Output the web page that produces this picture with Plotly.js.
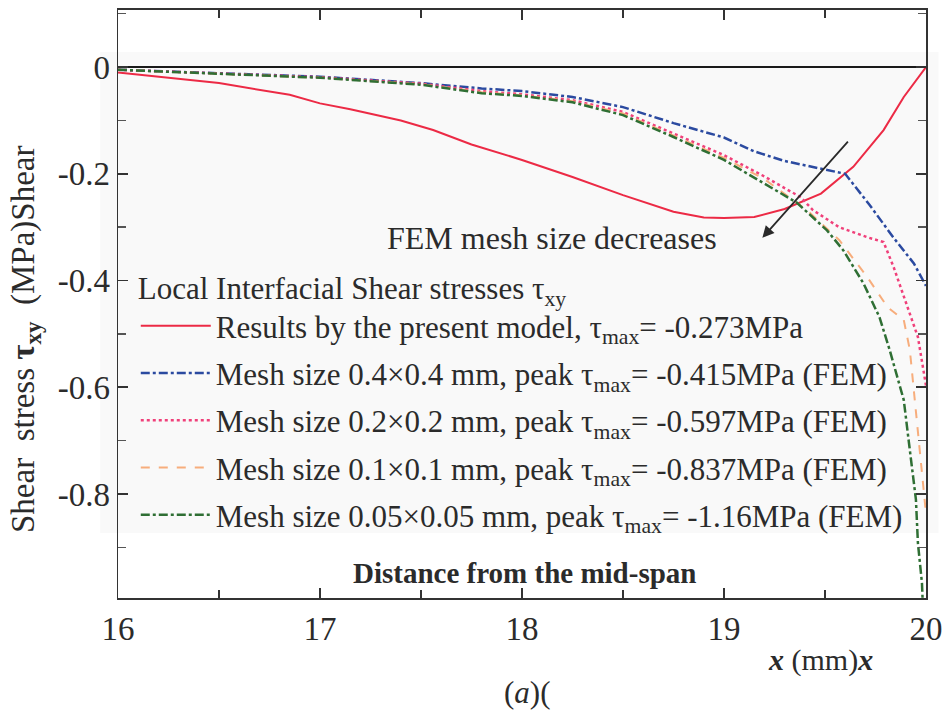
<!DOCTYPE html>
<html>
<head>
<meta charset="utf-8">
<script src="https://cdn.plot.ly/plotly-3.0.1.min.js"></script>
<style>html,body{margin:0;padding:0;background:#fff;}#chart{width:949px;height:713px;}</style>
</head>
<body>
<div id="chart"></div>
<script>
// ---- data ----
const modelX = [16, 16.25, 16.5, 16.85, 17.0, 17.15, 17.4, 17.56, 17.75, 18.0, 18.25, 18.5, 18.75, 18.9, 19.0, 19.15, 19.3, 19.48, 19.64, 19.79, 19.89, 20];
const modelY = [-0.01, -0.02, -0.03, -0.052, -0.068, -0.079, -0.1, -0.118, -0.145, -0.174, -0.206, -0.24, -0.271, -0.282, -0.283, -0.281, -0.266, -0.237, -0.187, -0.118, -0.056, 0.0];

const mesh04X = [16, 16.5, 17, 17.5, 17.8, 18.0, 18.25, 18.5, 18.75, 19.0, 19.15, 19.3, 19.48, 19.6, 19.72, 19.84, 19.94, 20];
const mesh04Y = [-0.005, -0.012, -0.018, -0.03, -0.04, -0.045, -0.056, -0.075, -0.105, -0.132, -0.158, -0.176, -0.19, -0.2, -0.258, -0.32, -0.368, -0.41];

const mesh02X = [16, 16.5, 17, 17.5, 17.8, 18.0, 18.25, 18.5, 18.75, 19.0, 19.2, 19.38, 19.44, 19.57, 19.71, 19.79, 19.84, 19.91, 19.96, 20];
const mesh02Y = [-0.005, -0.012, -0.019, -0.031, -0.045, -0.051, -0.062, -0.084, -0.124, -0.165, -0.205, -0.244, -0.268, -0.3, -0.319, -0.328, -0.375, -0.45, -0.506, -0.597];

const mesh01X = [16, 16.5, 17, 17.5, 17.8, 18.0, 18.25, 18.5, 18.75, 19.0, 19.2, 19.41, 19.57, 19.71, 19.81, 19.89, 19.92, 19.96, 19.99, 20];
const mesh01Y = [-0.005, -0.012, -0.02, -0.032, -0.047, -0.053, -0.064, -0.087, -0.128, -0.17, -0.21, -0.268, -0.324, -0.394, -0.45, -0.474, -0.53, -0.686, -0.793, -0.837];

const mesh005X = [16, 16.5, 17, 17.5, 17.8, 18.0, 18.25, 18.5, 18.75, 19.0, 19.23, 19.36, 19.51, 19.59, 19.69, 19.77, 19.82, 19.89, 19.92, 19.95, 19.96, 19.98, 20];
const mesh005Y = [-0.005, -0.012, -0.02, -0.033, -0.049, -0.054, -0.066, -0.09, -0.131, -0.174, -0.225, -0.254, -0.306, -0.343, -0.405, -0.469, -0.53, -0.624, -0.718, -0.81, -0.892, -0.967, -1.16];

const seriesNames = [
  "Results by the present model, τ<sub>max</sub>= -0.273MPa",
  "Mesh size 0.4×0.4 mm, peak τ<sub>max</sub>= -0.415MPa (FEM)",
  "Mesh size 0.2×0.2 mm, peak τ<sub>max</sub>= -0.597MPa (FEM)",
  "Mesh size 0.1×0.1 mm, peak τ<sub>max</sub>= -0.837MPa (FEM)",
  "Mesh size 0.05×0.05 mm, peak τ<sub>max</sub>= -1.16MPa (FEM)"
];
const xTickVals = [16, 17, 18, 19, 20];
const xTickText = ["16", "17", "18", "19", "20"];
const yTickVals = [0, -0.2, -0.4, -0.6, -0.8];
const yTickText = ["0", "-0.2", "-0.4", "-0.6", "-0.8"];

// ---- chart ----
const serif = "'Liberation Serif', 'Times New Roman', serif";
const txt = "#2b2b2b";

const traces = [
  {x: modelX, y: modelY, name: seriesNames[0], line: {color: "#ec2a45", width: 2, dash: "solid"}},
  {x: mesh04X, y: mesh04Y, name: seriesNames[1], line: {color: "#2b4aa0", width: 2.5, dash: "dashdot"}},
  {x: mesh02X, y: mesh02Y, name: seriesNames[2], line: {color: "#f0407a", width: 2.5, dash: "dot"}},
  {x: mesh01X, y: mesh01Y, name: seriesNames[3], line: {color: "#f7ad7c", width: 2, dash: "dash"}},
  {x: mesh005X, y: mesh005Y, name: seriesNames[4], line: {color: "#2f6f34", width: 2.5, dash: "dashdot"}}
].map((t, i) => Object.assign({type: "scatter", mode: "lines", legendgroup: "g" + i}, t));

const layout = {
  width: 949, height: 713,
  margin: {l: 118, r: 23, t: 10, b: 115},
  paper_bgcolor: "#ffffff",
  plot_bgcolor: "#ffffff",
  font: {family: serif, color: txt},
  showlegend: true,
  legend: {
    x: 0.022, y: 0.577, xanchor: "left", yanchor: "top",
    bgcolor: "rgba(0,0,0,0)",
    font: {family: serif, size: 31, color: txt},
    title: {text: "Local Interfacial Shear stresses τ<sub>xy</sub>", font: {family: serif, size: 31, color: txt}},
    tracegroupgap: 4,
    itemwidth: 70
  },
  xaxis: {
    range: [16, 20],
    tickvals: xTickVals, ticktext: xTickText,
    ticks: "inside", ticklen: 10, tickwidth: 1.5, tickcolor: "#333",
    minor: {dtick: 0.5, tick0: 16, ticks: "inside", ticklen: 8, tickwidth: 1.5, tickcolor: "#333", showgrid: false},
    showline: true, linecolor: "#333", linewidth: 2, mirror: "ticks",
    showgrid: false, zeroline: false,
    tickfont: {family: serif, size: 33, color: txt}
  },
  yaxis: {
    range: [-0.995, 0.107],
    tickvals: yTickVals, ticktext: yTickText,
    ticks: "inside", ticklen: 10, tickwidth: 1.5, tickcolor: "#333",
    minor: {dtick: 0.1, tick0: 0, ticks: "inside", ticklen: 8, tickwidth: 1.5, tickcolor: "#555", showgrid: false},
    showline: true, linecolor: "#333", linewidth: 1.5, mirror: "ticks",
    showgrid: false,
    zeroline: true, zerolinecolor: "#1a1a1a", zerolinewidth: 2,
    tickfont: {family: serif, size: 33, color: txt},
    automargin: false
  },
  shapes: [
    {type: "rect", xref: "paper", yref: "paper", x0: -0.022, x1: 1.0155, y0: (598 - 533) / 588, y1: (598 - 52) / 588,
     fillcolor: "#f9f9f9", line: {width: 0}, layer: "below"}
  ],
  annotations: [
    {xref: "paper", yref: "paper", x: (25 - 118) / 808, y: (598 - 339) / 588, textangle: -90,
     xanchor: "center", yanchor: "middle",
     text: "Shear  stress <b>τ<sub>xy</sub></b>  (MPa)Shear", showarrow: false,
     font: {family: serif, size: 33, color: txt}},
    {xref: "x", yref: "y", x: 18.15, y: -0.32, xanchor: "center", yanchor: "middle",
     text: "FEM mesh size decreases", showarrow: false,
     font: {family: serif, size: 32, color: txt}},
    {xref: "x", yref: "y", x: 19.19, y: -0.32, ax: 19.62, ay: -0.137, axref: "x", ayref: "y",
     text: "", showarrow: true, arrowhead: 2, arrowsize: 1.3, arrowwidth: 1.8, arrowcolor: "#2a2a2a"},
    {xref: "paper", yref: "paper", x: (524 - 118) / 808, y: (598 - 573) / 588, xanchor: "center", yanchor: "middle",
     text: "<b>Distance from the mid-span</b>",
     showarrow: false, font: {family: serif, size: 29, color: txt}},
    {xref: "paper", yref: "paper", x: (820 - 118) / 808, y: -(660 - 598) / 588, xanchor: "center", yanchor: "middle",
     text: "<b><i>x</i></b> (mm)<b><i>x</i></b>",
     showarrow: false, font: {family: serif, size: 30, color: txt}},
    {xref: "paper", yref: "paper", x: (527 - 118) / 808, y: -(692 - 598) / 588, xanchor: "center", yanchor: "middle",
     text: "(<i>a</i>)(",
     showarrow: false, font: {family: serif, size: 31, color: txt}}
  ]
};

Plotly.newPlot("chart", traces, layout, {displayModeBar: false, staticPlot: true});
</script>
</body>
</html>
